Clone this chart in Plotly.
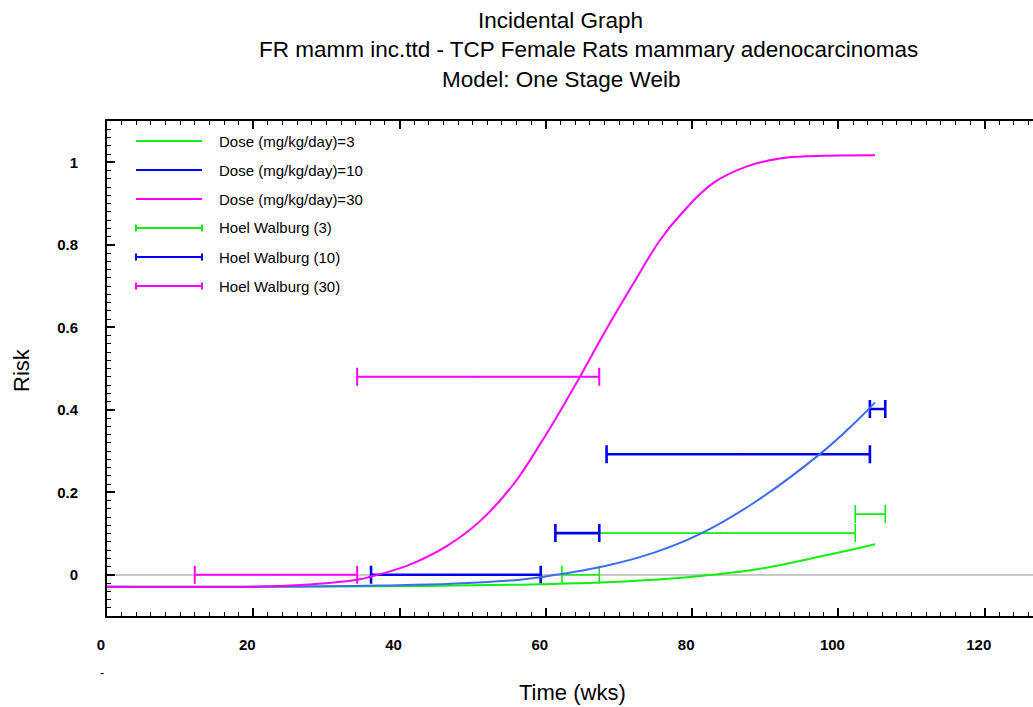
import plotly.graph_objects as go

# ---- fitted One Stage Weibull curves (time in weeks, risk) ----
t_dose3 = [0, 20, 37.4, 56.5, 59.2, 67.3, 79.3, 88.4, 97.5, 105]
r_dose3 = [-0.029, -0.029, -0.028, -0.024, -0.023, -0.019, -0.006, 0.012, 0.044, 0.074]

t_dose10 = [0, 20, 30, 37.4, 47, 56.5, 59.2, 67.3, 74.7, 81.1, 88.4, 97.5, 102.1, 105]
r_dose10 = [-0.029, -0.029, -0.028, -0.026, -0.022, -0.012, -0.006, 0.018, 0.053, 0.099,
            0.174, 0.293, 0.366, 0.418]

t_dose30 = [0, 20, 26.4, 34.2, 36, 40.1, 41.9, 46.5, 51, 55.6, 59.5, 61.3, 64.7, 67.4,
            72, 75.6, 78.6, 82.9, 87.5, 92, 96.6, 105]
r_dose30 = [-0.029, -0.029, -0.025, -0.012, -0.005, 0.016, 0.028, 0.07, 0.13, 0.22,
            0.325, 0.377, 0.481, 0.568, 0.707, 0.811, 0.877, 0.950, 0.99, 1.009, 1.015, 1.017]

# ---- Hoel-Walburg interval estimates: (start week, end week, risk) ----
hw3_lo = [62.2, 67.3, 102.3]
hw3_hi = [67.3, 102.3, 106.4]
hw3_r = [0.0, 0.101, 0.147]

hw10_lo = [36.1, 61.3, 68.3, 104.3]
hw10_hi = [59.3, 67.3, 104.3, 106.4]
hw10_r = [0.0, 0.101, 0.292, 0.402]

hw30_lo = [12.0, 34.2]
hw30_hi = [34.2, 67.3]
hw30_r = [0.0, 0.48]

x_ticks = [0, 20, 40, 60, 80, 100, 120]

GREEN = "#11ee11"
BLUE = "#0000f0"
BLUE_CURVE = "#3c6cf2"
MAGENTA = "#ff00ff"
FONT = "Liberation Sans, Arial, sans-serif"

# plot-area geometry in pixels
W, H = 1033, 707
ML, MR, MT, MB = 107, 0, 121, 91
PW, PH = W - ML - MR, H - MT - MB
X_MAX = 126.6


def px(xpix):
    return (xpix - ML) / PW


def py(ypix):
    return (H - MB - ypix) / PH


fig = go.Figure()


def add_intervals(lo, hi, r, color, thick):
    mid = [(a + b) / 2 for a, b in zip(lo, hi)]
    half = [(b - a) / 2 for a, b in zip(lo, hi)]
    fig.add_trace(go.Scatter(
        x=mid, y=r, mode="markers", showlegend=False,
        marker=dict(size=2, color=color),
        error_x=dict(type="data", symmetric=True, array=half, color=color,
                     thickness=thick, width=9),
        hoverinfo="skip",
    ))


add_intervals(hw3_lo, hw3_hi, hw3_r, GREEN, 1.6)
add_intervals(hw10_lo, hw10_hi, hw10_r, BLUE, 2.6)
add_intervals(hw30_lo, hw30_hi, hw30_r, MAGENTA, 2)

for t, r, c in [(t_dose3, r_dose3, GREEN), (t_dose10, r_dose10, BLUE_CURVE),
                (t_dose30, r_dose30, MAGENTA)]:
    fig.add_trace(go.Scatter(x=t, y=r, mode="lines", showlegend=False,
                             line=dict(color=c, width=2, shape="spline", smoothing=1.1)))

# ---- hand-drawn legend ----
legend_labels = ["Dose (mg/kg/day)=3", "Dose (mg/kg/day)=10", "Dose (mg/kg/day)=30",
                 "Hoel Walburg (3)", "Hoel Walburg (10)", "Hoel Walburg (30)"]
legend_colors = [GREEN, BLUE, MAGENTA, GREEN, BLUE, MAGENTA]
legend_caps = [False, False, False, True, True, True]
row_y = [141, 170, 199, 228, 257, 286]

shapes = []
annotations = []
for lab, col, cap, yy in zip(legend_labels, legend_colors, legend_caps, row_y):
    shapes.append(dict(type="line", xref="paper", yref="paper",
                       x0=px(136), x1=px(202), y0=py(yy), y1=py(yy),
                       line=dict(color=col, width=2)))
    if cap:
        for xx in (136, 202):
            shapes.append(dict(type="line", xref="paper", yref="paper",
                               x0=px(xx), x1=px(xx), y0=py(yy - 3.5), y1=py(yy + 3.5),
                               line=dict(color=col, width=2)))
    annotations.append(dict(text=lab, xref="paper", yref="paper", x=px(217), y=py(yy),
                            xanchor="left", yanchor="middle", showarrow=False,
                            font=dict(family=FONT, size=15, color="black")))

# titles
for txt, cx, cy in [("Incidental Graph", 560, 20),
                    ("FR mamm inc.ttd - TCP Female Rats mammary adenocarcinomas", 588, 50),
                    ("Model: One Stage Weib", 561, 80)]:
    annotations.append(dict(text=txt, xref="paper", yref="paper", x=px(cx), y=py(cy),
                            xanchor="center", yanchor="middle", showarrow=False,
                            font=dict(family=FONT, size=22.5, color="black")))

annotations.append(dict(text="Risk", xref="paper", yref="paper", x=px(21), y=py(370),
                        xanchor="center", yanchor="middle", textangle=-90, showarrow=False,
                        font=dict(family=FONT, size=22, color="black")))
annotations.append(dict(text="Time (wks)", xref="paper", yref="paper", x=px(572), y=py(692),
                        xanchor="center", yanchor="middle", showarrow=False,
                        font=dict(family=FONT, size=22, color="black")))
annotations.append(dict(text="-", xref="paper", yref="paper", x=px(102), y=py(672),
                        xanchor="center", yanchor="middle", showarrow=False,
                        font=dict(family=FONT, size=13, color="black")))

fig.update_layout(
    width=W, height=H,
    margin=dict(l=ML, r=MR, t=MT, b=MB, pad=0),
    paper_bgcolor="white", plot_bgcolor="white",
    showlegend=False,
    shapes=shapes, annotations=annotations,
    xaxis=dict(
        range=[0, X_MAX], tickvals=x_ticks, showgrid=False, zeroline=False,
        showline=True, linecolor="black", linewidth=2, mirror="ticks",
        ticks="inside", ticklen=8, tickwidth=1.5, tickcolor="black",
        minor=dict(dtick=2, tick0=0, ticks="inside", ticklen=4, tickwidth=1.2,
                   tickcolor="black", showgrid=False),
        tickfont=dict(family=FONT, size=15, color="black", weight="bold"),
        ticklabelstandoff=14, ticklabelshift=-6,
    ),
    yaxis=dict(
        range=[-0.1, 1.1], dtick=0.2, tick0=0, showgrid=False,
        zeroline=True, zerolinecolor="#c8c8c8", zerolinewidth=1.5,
        showline=True, linecolor="black", linewidth=2,
        ticks="inside", ticklen=8, tickwidth=1.5, tickcolor="black",
        minor=dict(dtick=0.02, tick0=0, ticks="inside", ticklen=4, tickwidth=1.2,
                   tickcolor="black", showgrid=False),
        tickfont=dict(family=FONT, size=15, color="black", weight="bold"),
        ticklabelstandoff=24,
    ),
    # inner time scale sitting on the curves' baseline
    xaxis2=dict(
        overlaying="x", anchor="free", position=py(587), side="bottom",
        range=[0.65, X_MAX + 0.65], tickvals=x_ticks, showticklabels=False,
        showline=False, showgrid=False, zeroline=False,
        ticks="outside", ticklen=5, tickwidth=2, tickcolor="#333333",
    ),
    # right-hand tick marks
    yaxis2=dict(
        overlaying="y", side="right", anchor="x", range=[-0.1, 1.1], dtick=0.2, tick0=0,
        showticklabels=False, showline=False, showgrid=False, zeroline=False,
        ticks="inside", ticklen=3, tickwidth=1, tickcolor="#aaaaaa",
    ),
)

fig.write_html("out.html")
